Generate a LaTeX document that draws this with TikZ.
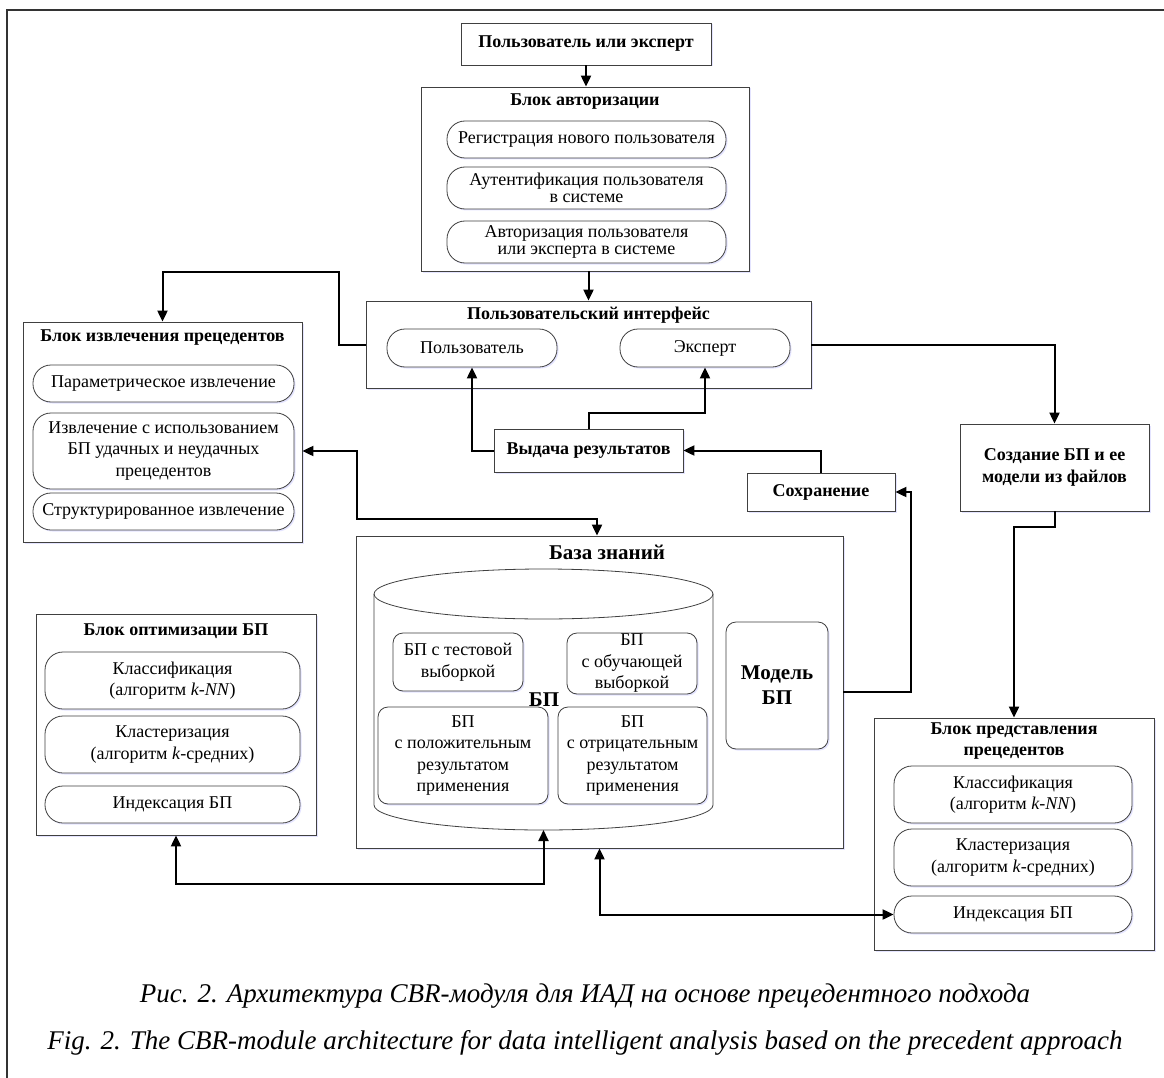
\documentclass[tikz,border=0pt]{standalone}
\usepackage{fontspec}
\setmainfont{Liberation Serif}
\usetikzlibrary{arrows.meta, positioning, shadows, calc}

\begin{document}
\begin{tikzpicture}[x=1pt, y=-1pt]
    \tikzstyle{container} = [rectangle, draw=black!75, line width=0.8pt, fill=white, inner sep=0pt, drop shadow={shadow xshift=1.5pt, shadow yshift=-1.5pt, fill=blue!30, opacity=0.35}]
    \tikzstyle{block} = [container, font=\bfseries\fontsize{18}{21.5}\selectfont, align=center]
    \tikzstyle{pill} = [container, rounded corners=18pt, font=\fontsize{18}{21.5}\selectfont, align=center]
    \tikzstyle{tight} = [font=\fontsize{18}{17.5}\selectfont]
    \tikzstyle{bpbox} = [container, rounded corners=10pt, font=\fontsize{18}{21.5}\selectfont, align=center]
    \tikzstyle{blocktitle} = [font=\bfseries\fontsize{18}{21}\selectfont, align=center, inner sep=0pt]
    \tikzstyle{caption} = [font=\itshape\fontsize{27}{31}\selectfont, inner sep=0pt]
    \tikzstyle{arrow} = [line width=2pt, -{Triangle[length=11pt, width=10pt]}]
    \tikzstyle{biarrow} = [line width=2pt, {Triangle[length=11pt, width=10pt]}-{Triangle[length=11pt, width=10pt]}]

    \useasboundingbox (0,0) rectangle (1164,1078);
    \draw[line width=1.2pt, black!80] (7,1078) -- (7,10) -- (1164,10);

    % user and authorization
    \node[block, minimum width=250pt, minimum height=42pt] (user) at (586,44) {Пользователь или эксперт};
    \node[container, minimum width=328pt, minimum height=184pt] (auth) at (585,179) {};
    \node[blocktitle] (authtitle) at (585,102) {Блок авторизации};
    \node[pill, minimum width=279pt, minimum height=37pt] (reg) at (586.5,139.5) {Регистрация нового пользователя};
    \node[pill, tight, minimum width=279pt, minimum height=42pt] (authent) at (586.5,188) {Аутентификация пользователя\\в системе};
    \node[pill, tight, minimum width=279pt, minimum height=42pt] (authz) at (586.5,242) {Авторизация пользователя\\или эксперта в системе};

    % user interface
    \node[container, minimum width=445pt, minimum height=87pt] (iface) at (588.5,344.5) {};
    \node[blocktitle] (ifacetitle) at (588.5,315) {Пользовательский интерфейс};
    \node[pill, minimum width=170pt, minimum height=38pt] (puser) at (472,348) {Пользователь};
    \node[pill, minimum width=170pt, minimum height=38pt] (pexp) at (705,348) {Эксперт};

    % retrieval
    \node[container, minimum width=279pt, minimum height=220pt] (retr) at (162.5,432) {};
    \node[blocktitle] (retrtitle) at (162.5,338) {Блок извлечения прецедентов};
    \node[pill, minimum width=261pt, minimum height=37pt] (retr1) at (163.5,383.5) {Параметрическое извлечение};
    \node[pill, minimum width=261pt, minimum height=76pt] (retr2) at (163.5,451) {Извлечение с использованием\\БП удачных и неудачных\\прецедентов};
    \node[pill, minimum width=261pt, minimum height=37pt] (retr3) at (163.5,511.5) {Структурированное извлечение};

    \node[block, minimum width=189pt, minimum height=43pt] (results) at (588.5,450.5) {Выдача результатов};
    \node[block, minimum width=148pt, minimum height=38pt] (save) at (821,492) {Сохранение};
    \node[block, minimum width=189pt, minimum height=87pt] (create) at (1054.5,467.5) {Создание БП и ее\\модели из файлов};

    % knowledge base
    \node[container, minimum width=487pt, minimum height=312pt] (kb) at (599.5,692) {};
    \node[blocktitle, font=\bfseries\fontsize{21}{24}\selectfont] (kbtitle) at (607,552) {База знаний};
    \draw[line width=0.8pt, black!75, fill=white] (374,594) -- (374,805) arc[start angle=180, end angle=0, x radius=169.5, y radius=25] -- (713,594);
    \draw[line width=0.8pt, black!75] (543.5,594) ellipse [x radius=169.5, y radius=25];
    \coordinate (cylbot) at (543.5,830);
    \node[bpbox, minimum width=130pt, minimum height=58pt] (bptest) at (458,662) {БП с тестовой\\выборкой};
    \node[bpbox, minimum width=130pt, minimum height=61pt] (bptrain) at (632,663.5) {БП\\с обучающей\\выборкой};
    \node[blocktitle, font=\bfseries\fontsize{21}{24}\selectfont] (bplabel) at (544,700) {БП};
    \node[bpbox, minimum width=170pt, minimum height=97pt] (bppos) at (463,755.5) {БП\\с положительным\\результатом\\применения};
    \node[bpbox, minimum width=149pt, minimum height=97pt] (bpneg) at (632.5,755.5) {БП\\с отрицательным\\результатом\\применения};
    \node[bpbox, font=\bfseries\fontsize{21}{25}\selectfont, minimum width=102pt, minimum height=127pt] (model) at (777,685.5) {Модель\\БП};

    % optimization
    \node[container, minimum width=280pt, minimum height=221pt] (opt) at (176,724.5) {};
    \node[blocktitle] (opttitle) at (176,631) {Блок оптимизации БП};
    \node[pill, minimum width=255pt, minimum height=57pt] (opt1) at (172.5,680.5) {Классификация\\(алгоритм \textit{k-NN})};
    \node[pill, minimum width=255pt, minimum height=57pt] (opt2) at (172.5,744.5) {Кластеризация\\(алгоритм \textit{k}-средних)};
    \node[pill, minimum width=255pt, minimum height=37pt] (opt3) at (172.5,804.5) {Индексация БП};

    % representation
    \node[container, minimum width=280pt, minimum height=232pt] (repr) at (1014,834) {};
    \node[blocktitle] (reprtitle) at (1014,741.5) {Блок представления\\прецедентов};
    \node[pill, minimum width=238pt, minimum height=57pt] (repr1) at (1013,794.5) {Классификация\\(алгоритм \textit{k-NN})};
    \node[pill, minimum width=238pt, minimum height=57pt] (repr2) at (1013,857.5) {Кластеризация\\(алгоритм \textit{k}-средних)};
    \node[pill, minimum width=238pt, minimum height=37pt] (repr3) at (1013,914.5) {Индексация БП};

    \coordinate (bend1) at (339,272);
    \coordinate (bend2) at (357,519);

    \draw[arrow] (user.south) -- (user.south |- auth.north);
    \draw[arrow] (iface.north |- auth.south) -- (iface.north);
    \draw[arrow] (iface.west) -| (bend1) -| (retr.north);
    \draw[arrow] (iface.east) -| (create.north);
    \draw[arrow] (create.south) -- ++(0,16) -| (repr.north);
    \draw[arrow] (results.west) -| (puser.south);
    \draw[arrow] (results.north) -- ++(0,-16) -| (pexp.south);
    \draw[arrow] (save.north) |- (results.east);
    \draw[arrow] (kb.east) -- ++(68,0) |- (save.east);
    \draw[biarrow] (retr.east |- retr2.east) -| (bend2) -| ($(kb.north)+(-2.5,0)$);
    \draw[biarrow] (opt.south) -- ++(0,49) -| (cylbot);
    \draw[biarrow] (kb.south) |- (repr3.west);

    \node[caption] (capru) at (585,996) {Рис. 2. Архитектура CBR-модуля для ИАД на основе прецедентного подхода};
    \node[caption] (capen) at (585,1043) {Fig. 2. The CBR-module architecture for data intelligent analysis based on the precedent approach};
\end{tikzpicture}
\end{document}
